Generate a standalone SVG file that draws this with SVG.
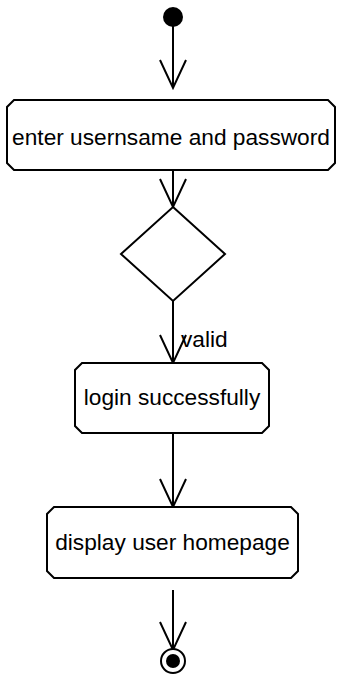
<svg xmlns="http://www.w3.org/2000/svg" width="339" height="679" viewBox="0 0 339 679">
<style>
.box{fill:#fff;stroke:#000;stroke-width:2}
.t{font-family:"Liberation Sans",Arial,sans-serif;font-size:22.7px;fill:#000}
.ln{stroke:#000;stroke-width:2;fill:none}
</style>
<rect width="339" height="679" fill="#fff"/>
<g id="connectors">
<path class="ln" d="M173,26 V88 M160,60 L173,88 L186,60"/>
<path class="ln" d="M173,170 V207 M160,179 L173,207 L186,179"/>
<path class="ln" d="M173,301 V363 M160,335 L173,363 L186,335"/>
<text class="t" x="181" y="347">valid</text>
<path class="ln" d="M173,433 V507 M160,479 L173,507 L186,479"/>
<path class="ln" d="M173,590 V650 M160,622 L173,650 L186,622"/>
</g>
<g id="start"><circle cx="173" cy="17" r="10" fill="#000"/></g>
<g id="enter">
<path class="box" d="M14,100 H328 L335,107 V163 L328,170 H14 L7,163 V107 Z"/>
<text class="t" x="171" y="145" text-anchor="middle">enter usernsame and password</text>
</g>
<g id="decision"><path class="box" d="M173,207 L225,254 L173,301 L121,254 Z"/></g>
<g id="login">
<path class="box" d="M82,363 H262 L269,370 V426 L262,433 H82 L75,426 V370 Z"/>
<text class="t" x="172" y="405" text-anchor="middle">login successfully</text>
</g>
<g id="display">
<path class="box" d="M54,507 H291 L298,514 V571 L291,578 H54 L47,571 V514 Z"/>
<text class="t" x="172.5" y="550" text-anchor="middle">display user homepage</text>
</g>
<g id="end">
<circle cx="173" cy="661" r="12" fill="#fff" stroke="#000" stroke-width="2"/>
<circle cx="173" cy="661" r="7" fill="#000"/>
</g>
</svg>
